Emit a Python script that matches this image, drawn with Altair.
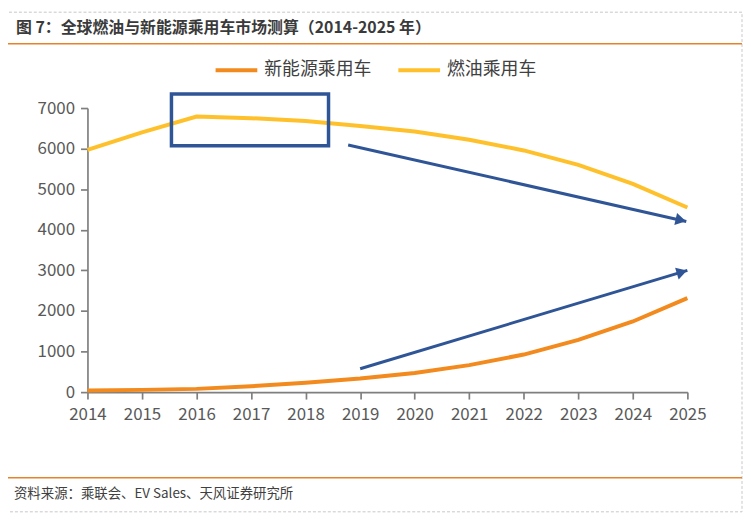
import altair as alt
import pandas as pd

# ---- data ----
years = [2014, 2015, 2016, 2017, 2018, 2019, 2020, 2021, 2022, 2023, 2024, 2025]
nev = [40, 55, 80, 145, 230, 335, 470, 665, 925, 1285, 1740, 2315]
fuel = [5970, 6400, 6790, 6750, 6680, 6560, 6420, 6220, 5955, 5600, 5130, 4550]
series_names = ["新能源乘用车", "燃油乘用车"]
series_colors = ["#F28A1E", "#FFC12B"]
y_ticks = [0, 1000, 2000, 3000, 4000, 5000, 6000, 7000]

# annotation (in data units)
box_x = [2015.54]
box_x2 = [2018.42]
box_y = [7345]
box_y2 = [6070]
arrow_x = [2018.78, 2019.0]
arrow_y = [6090, 575]
arrow_x2 = [2024.98, 2025.0]
arrow_y2 = [4205, 3000]
arrow_angle = [13, 343]

title_text = "图 7：全球燃油与新能源乘用车市场测算（2014-2025 年）"
source_text = "资料来源：乘联会、EV Sales、天风证券研究所"

FONT = "Noto Sans CJK SC"
BLUE = "#2F5597"
ORANGE_RULE = "#E8822A"
AXIS_GREY = "#7F7F7F"
LABEL_GREY = "#595959"

rows = []
for i, yr in enumerate(years):
    rows.append({"year": yr, "value": nev[i], "series": series_names[0]})
    rows.append({"year": yr, "value": fuel[i], "series": series_names[1]})
df = pd.DataFrame(rows)

xscale = alt.Scale(domain=[2014, 2025], nice=False, zero=False)
yscale = alt.Scale(domain=[0, 7000], nice=False)

lines = alt.Chart(df).mark_line(strokeWidth=4).encode(
    x=alt.X("year:Q", scale=xscale, title=None,
            axis=alt.Axis(values=years, format="d", grid=False, tickSize=7,
                          labelPadding=8, labelFlush=False, labelOverlap=False,
                          labelFont=FONT, labelFontSize=17, labelColor=LABEL_GREY,
                          domainColor=AXIS_GREY, domainWidth=1.7,
                          tickColor=AXIS_GREY, tickWidth=1.7)),
    y=alt.Y("value:Q", scale=yscale, title=None,
            axis=alt.Axis(values=y_ticks, format="d", grid=False, tickSize=7,
                          labelPadding=6, labelFlush=False,
                          labelFont=FONT, labelFontSize=17, labelColor=LABEL_GREY,
                          domainColor=AXIS_GREY, domainWidth=1.7,
                          tickColor=AXIS_GREY, tickWidth=1.7)),
    color=alt.Color("series:N",
                    scale=alt.Scale(domain=series_names, range=series_colors),
                    sort=series_names,
                    legend=alt.Legend(orient="none", legendX=127, legendY=-61,
                                      direction="horizontal", title=None,
                                      symbolType="stroke", symbolSize=1764,
                                      symbolStrokeWidth=4, labelFontSize=18,
                                      labelColor="#404040", labelFont=FONT,
                                      labelOffset=5, columnPadding=19)),
    order="year:Q",
)

box_df = pd.DataFrame({"x": box_x, "x2": box_x2, "y": box_y, "y2": box_y2})
box = alt.Chart(box_df).mark_rect(fillOpacity=0, stroke=BLUE, strokeWidth=3.5).encode(
    x=alt.X("x:Q", scale=xscale), x2="x2:Q",
    y=alt.Y("y:Q", scale=yscale), y2="y2:Q",
)

arr_df = pd.DataFrame({"x": arrow_x, "y": arrow_y, "x2": arrow_x2, "y2": arrow_y2,
                       "angle": arrow_angle})
arrow_lines = alt.Chart(arr_df).mark_rule(color=BLUE, strokeWidth=3).encode(
    x=alt.X("x:Q", scale=xscale), x2="x2:Q",
    y=alt.Y("y:Q", scale=yscale), y2="y2:Q",
)
head1 = alt.Chart(arr_df.iloc[[0]]).mark_point(
    shape="triangle-right", filled=True, color=BLUE, size=150, opacity=1,
    xOffset=-5.5, yOffset=-1.3).encode(
    x=alt.X("x2:Q", scale=xscale), y=alt.Y("y2:Q", scale=yscale),
    angle=alt.Angle("angle:Q", scale=None),
)
head2 = alt.Chart(arr_df.iloc[[1]]).mark_point(
    shape="triangle-right", filled=True, color=BLUE, size=150, opacity=1,
    xOffset=-5.5, yOffset=1.7).encode(
    x=alt.X("x2:Q", scale=xscale), y=alt.Y("y2:Q", scale=yscale),
    angle=alt.Angle("angle:Q", scale=None),
)

one = pd.DataFrame({"t": [title_text], "s": [source_text]})
border = alt.Chart(one).mark_rect(fillOpacity=0, stroke="#C8C8C8", strokeWidth=1,
                                  strokeDash=[3, 2]).encode(
    x=alt.value(-84), x2=alt.value(659), y=alt.value(-96.5), y2=alt.value(406.5))
top_rule = alt.Chart(one).mark_rule(color=ORANGE_RULE, strokeWidth=1.5).encode(
    x=alt.value(-84), x2=alt.value(659), y=alt.value(-64.7))
bottom_rule = alt.Chart(one).mark_rule(color=ORANGE_RULE, strokeWidth=1.5).encode(
    x=alt.value(-84), x2=alt.value(659), y=alt.value(372.3))
title = alt.Chart(one).mark_text(align="left", baseline="middle", font=FONT,
                                 fontSize=16, fontWeight="bold", color="#3A3A3A").encode(
    x=alt.value(-72), y=alt.value(-80.7), text="t:N")
footer = alt.Chart(one).mark_text(align="left", baseline="middle", font=FONT,
                                  fontSize=13.5, color="#404040").encode(
    x=alt.value(-74), y=alt.value(389), text="s:N")

chart = alt.layer(border, top_rule, bottom_rule, title, footer,
                  lines, box, arrow_lines, head1, head2).properties(
    width=604, height=286,
    autosize=alt.AutoSizeParams(type="none"),
    padding={"left": 80, "top": 99, "right": 56, "bottom": 122},
).configure_view(strokeWidth=0)

chart.save("out.html", embed_options={"renderer": "svg", "actions": False})
